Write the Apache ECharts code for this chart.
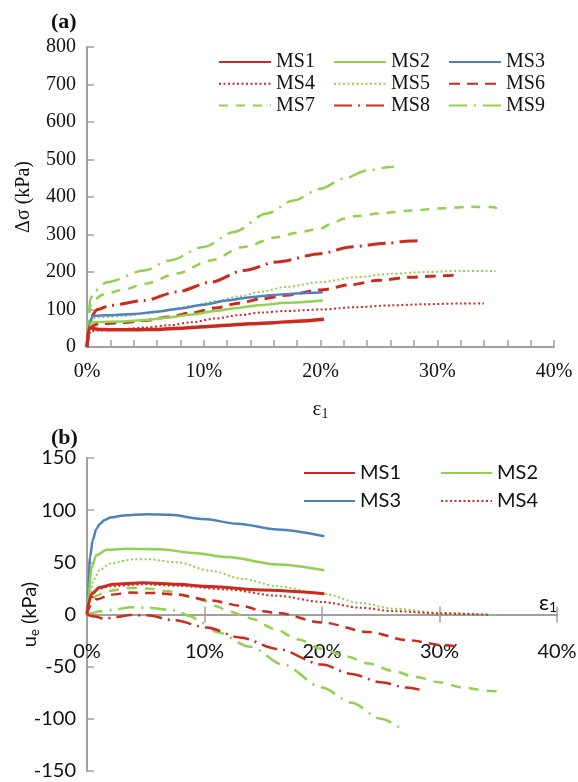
<!DOCTYPE html>
<html>
<head>
<meta charset="utf-8">
<script src="https://cdn.jsdelivr.net/npm/echarts@6/dist/echarts.min.js"></script>
<style>
  html, body { margin: 0; padding: 0; background: #fff; }
  #wrap { position: relative; width: 578px; height: 782px; }
  #chartA { position: absolute; left: 0; top: 0; width: 578px; height: 430px; }
  #chartB { position: absolute; left: 0; top: 391px; width: 578px; height: 391px; }
</style>
</head>
<body>
<div id="wrap"><div id="chartA"></div><div id="chartB"></div></div>
<script>
const names = ['MS1', 'MS2', 'MS3', 'MS4', 'MS5', 'MS6', 'MS7', 'MS8', 'MS9'];

// (a) deviator stress, [strain %, kPa]
const dsMS1 = [[0,0],[0.15,45],[0.3,52],[0.6,49],[1,47],[2,46],[4,46],[6,47],[8,50],[10,54],[12,58],[14,62],[16,65],[18,69],[20.3,74]];
const dsMS2 = [[0,0],[0.2,50],[0.4,66],[1,67],[3,68],[5,72],[7,79],[9,87],[11,96],[13,105],[15,112],[17,118],[20.2,124]];
const dsMS3 = [[0,0],[0.2,60],[0.5,82],[1,84],[2,85],[4,88],[6,94],[8,103],[10,113],[12,124],[14,133],[16,139],[18,143],[20.2,146]];
const dsMS4 = [[0,0],[0.3,42],[1,44],[3,48],[5,52],[7,58],[9,66],[11,76],[13,85],[15,92],[17,96],[20,100],[23,106],[26,111],[29,114],[32,116],[34,116]];
const dsMS5 = [[0,0],[0.3,75],[1,79],[3,82],[5,89],[7,99],[9,110],[11,122],[13,135],[15,148],[17,160],[20,173],[23,186],[26,195],[29,200],[32,203],[35,203]];
const dsMS6 = [[0,0],[0.3,55],[1,62],[3,65],[5,71],[7,80],[9,91],[11,104],[13,117],[15,129],[17,138],[20,152],[22.6,166],[25,178],[27.7,186],[29.5,189],[31.4,191]];
const dsMS7 = [[0,0],[0.3,110],[0.5,124],[1.4,140],[3,152],[5,169],[7.7,196],[10.6,231],[13.4,267],[16.3,293],[18,305],[20,316],[21,330],[22,342],[23,349],[25,356],[27.7,364],[30.6,370],[32.9,374],[34.9,373],[35.1,369]];
const dsMS8 = [[0,0],[0.3,80],[0.9,100],[2,111],[4.9,124],[7.7,147],[10.6,173],[13.4,204],[16.3,227],[20,249],[22.6,267],[25.7,277],[27.7,283],[28.7,284]];
const dsMS9 = [[0,0],[0.3,130],[0.7,151],[1.7,173],[4.9,204],[7.1,231],[10,267],[12.6,307],[15.4,356],[17.7,391],[20,422],[22,449],[24,471],[26,480],[26.3,481]];

// (b) excess pore pressure, [strain %, kPa]
const ueMS1 = [[0,0],[0.1,10],[0.4,20],[1.1,26],[2.2,29],[4.8,30.5],[7.7,29],[10.5,26.8],[14.8,23.5],[20.2,20]];
const ueMS2 = [[0,0],[0.1,15],[0.4,45],[0.8,57],[1.7,62],[3.4,63],[6.2,62.5],[9.1,59],[11.9,55],[16.2,48],[20.2,42.5]];
const ueMS3 = [[0,0],[0.1,25],[0.26,55],[0.5,72],[0.8,82],[1.1,87],[1.5,90.5],[2,93],[3.1,95],[5.1,96],[7.1,95.5],[9.9,91.5],[12.8,87],[16.2,81.5],[20.2,75]];
const ueMS4 = [[0,0],[0.3,15],[0.85,24],[2,27],[4.8,29],[7.7,27.5],[11.9,24],[16.2,18],[20,12],[23.3,6.5],[26.1,3.2],[30,1],[34.3,-0.3]];
const ueMS5 = [[0,0],[0.26,15],[0.54,33],[1.1,43],[2,49],[4,53],[5.1,53],[7.7,50],[10.5,42],[13.3,34],[16.2,27],[20,20],[23.3,11],[26.1,5.5],[30,1.6],[35,-0.8]];
const ueMS6 = [[0,0],[0.26,8],[0.8,14.5],[2,19],[3.7,21],[5.9,20.5],[7.7,19],[10.5,13.5],[13.3,8],[15,3],[16.2,1.5],[20,-7.7],[24,-16.8],[27.2,-24.5],[30.4,-29.5],[31.5,-30.5]];
const ueMS7 = [[0,0],[0.26,13],[0.8,18],[1.7,22.5],[3.7,25.5],[5,25],[7.1,22],[9.1,16],[10,13],[11,8],[12,3.5],[13.3,-1],[14,-4],[16,-14],[18,-24],[20,-33],[22,-40],[24,-47],[26,-54],[28,-60],[30,-65],[32,-70],[34,-73],[35.3,-74]];
const ueMS8 = [[0,0],[0.7,-2],[1.4,-4],[2.5,-2.5],[3.7,-0.5],[5.1,-0.8],[7.4,-5.5],[10.2,-12.5],[13,-22],[16.2,-33],[20,-48],[22.5,-57],[25,-65],[27.2,-70],[28.3,-72]];
const ueMS9 = [[0,0],[0.3,1],[1.1,3],[2.5,5],[3.7,7],[5.1,6.5],[7.4,4],[8.9,-2],[9.5,-6],[10.2,-10],[11,-16.7],[13.9,-31],[16.7,-48],[20,-70],[22.5,-84.5],[25,-100],[26.6,-108.5]];

const dsData = [dsMS1, dsMS2, dsMS3, dsMS4, dsMS5, dsMS6, dsMS7, dsMS8, dsMS9];
const ueData = [ueMS1, ueMS2, ueMS3, ueMS4, ueMS5, ueMS6, ueMS7, ueMS8, ueMS9];

const RED = '#CC2A1E', GREEN = '#92D050', BLUE = '#4F81BD';
const lineA = [
  { color: RED, width: 3.5, type: 'solid' },
  { color: GREEN, width: 2.5, type: 'solid' },
  { color: BLUE, width: 2.5, type: 'solid' },
  { color: RED, width: 2, type: [2, 2.5] },
  { color: GREEN, width: 2, type: [2, 2.5] },
  { color: RED, width: 3, type: [11, 7] },
  { color: GREEN, width: 2.5, type: [9, 8] },
  { color: RED, width: 3, type: [18, 6, 2, 6] },
  { color: GREEN, width: 2.5, type: [18, 7, 2, 7] }
];
const lineB = [
  { color: RED, width: 3, type: 'solid' },
  { color: GREEN, width: 2.5, type: 'solid' },
  { color: BLUE, width: 2.5, type: 'solid' },
  { color: RED, width: 2, type: [2, 2.5] },
  { color: GREEN, width: 2, type: [2, 2.5] },
  { color: RED, width: 2.5, type: [10, 7] },
  { color: GREEN, width: 2.5, type: [10, 8] },
  { color: RED, width: 2.5, type: [16, 6, 2, 6] },
  { color: GREEN, width: 2.5, type: [16, 7, 2, 7] }
];

const AXIS = '#A0A0A0';
const SERIF = 'Liberation Serif';
const SANS = 'Lato';

function makeSeries(data, styles) {
  return data.map((d, i) => ({
    name: names[i],
    type: 'line',
    data: d,
    symbol: 'none',
    smooth: 0.3,
    smoothMonotone: 'x',
    lineStyle: styles[i],
    itemStyle: { color: styles[i].color },
    z: 10 - i
  }));
}

function legendCol(left, top, items, font, gap, w) {
  return {
    left: left, top: top, orient: 'vertical',
    data: items, itemWidth: w, itemHeight: 14, itemGap: gap,
    itemStyle: { opacity: 0 },
    textStyle: { fontFamily: font, fontSize: 20, color: '#111' },
    selectedMode: false
  };
}

// ---- panel (a)
const chartA = echarts.init(document.getElementById('chartA'));
chartA.setOption({
  animation: false,
  backgroundColor: 'transparent',
  title: { text: '(a)', left: 46, top: 6, textStyle: { fontFamily: SERIF, fontWeight: 'bold', fontSize: 22, color: '#111' } },
  legend: [
    legendCol(213, 47, ['MS1', 'MS4', 'MS7'], SERIF, 1.7, 52),
    legendCol(328, 47, ['MS2', 'MS5', 'MS8'], SERIF, 1.7, 52),
    legendCol(443, 47, ['MS3', 'MS6', 'MS9'], SERIF, 1.7, 52)
  ],
  grid: { left: 87, top: 47, width: 467, height: 300, outerBoundsMode: 'none' },
  xAxis: {
    type: 'value', min: 0, max: 40, interval: 2,
    name: '{a|ε}{b|1}', nameLocation: 'middle', nameGap: 50, nameMoveOverlap: false,
    nameTextStyle: { rich: { a: { fontFamily: SERIF, fontSize: 21, color: '#111' }, b: { fontFamily: SERIF, fontSize: 14, color: '#111', padding: [10, 0, 0, 0] } } },
    axisLine: { lineStyle: { color: AXIS, width: 2 } },
    axisTick: { inside: true, length: 7, lineStyle: { color: AXIS, width: 1.5 } },
    axisLabel: { margin: 15, fontFamily: SERIF, fontSize: 20, color: '#111', formatter: v => (v % 10 === 0 ? v + '%' : '') },
    splitLine: { show: false }
  },
  yAxis: {
    type: 'value', min: 0, max: 800, interval: 100,
    name: 'Δσ (kPa)', nameLocation: 'middle', nameGap: 53, nameMoveOverlap: false,
    nameTextStyle: { fontFamily: SERIF, fontSize: 20, color: '#111' },
    axisLine: { show: true, lineStyle: { color: AXIS, width: 2 } },
    axisTick: { show: true, inside: true, length: 7, lineStyle: { color: AXIS, width: 1.5 } },
    axisLabel: { margin: 11, fontFamily: SERIF, fontSize: 20, color: '#111' },
    splitLine: { show: false }
  },
  series: makeSeries(dsData, lineA)
});

// ---- panel (b)
// x axis 0 carries the % labels (kept at the grid bottom, pulled up to sit under u=0),
// axes 1 and 2 draw the line at u=0 with ticks crossing it
const chartB = echarts.init(document.getElementById('chartB'));
chartB.setOption({
  animation: false,
  backgroundColor: 'transparent',
  title: { text: '(b)', left: 46, top: 31, textStyle: { fontFamily: SERIF, fontWeight: 'bold', fontSize: 22, color: '#111' } },
  legend: [
    legendCol(298, 67, ['MS1', 'MS3'], SANS, 8, 51),
    legendCol(435, 67, ['MS2', 'MS4'], SANS, 8, 51)
  ],
  grid: { left: 87, top: 67, width: 470, height: 313, outerBoundsMode: 'none' },
  xAxis: [
    {
      type: 'value', min: 0, max: 40, interval: 10, position: 'bottom',
      axisLine: { show: false, onZero: false },
      axisTick: { show: false },
      axisLabel: { margin: -129, fontFamily: SANS, fontSize: 20, color: '#111', formatter: v => v + '%' },
      splitLine: { show: false }
    },
    {
      type: 'value', min: 0, max: 40, interval: 10, position: 'bottom',
      name: '{a|ε}{b|1}', nameLocation: 'end', nameGap: 0, nameMoveOverlap: false,
      nameTextStyle: { align: 'right', verticalAlign: 'bottom', rich: { a: { fontFamily: SANS, fontSize: 22, color: '#111' }, b: { fontFamily: SANS, fontSize: 14, color: '#111', padding: [10, 0, 0, 0] } } },
      axisLine: { onZero: true, onZeroAxisIndex: 0, lineStyle: { color: AXIS, width: 2 } },
      axisTick: { inside: false, length: 8, lineStyle: { color: AXIS, width: 1.5 } },
      axisLabel: { show: false },
      splitLine: { show: false }
    },
    {
      type: 'value', min: 0, max: 40, interval: 10, position: 'top',
      axisLine: { onZero: true, onZeroAxisIndex: 0, lineStyle: { color: AXIS, width: 2 } },
      axisTick: { inside: false, length: 8, lineStyle: { color: AXIS, width: 1.5 } },
      axisLabel: { show: false },
      splitLine: { show: false }
    }
  ],
  yAxis: {
    type: 'value', min: -150, max: 150, interval: 50,
    name: '{u|u}{e|e}{u| (kPa)}', nameLocation: 'middle', nameGap: 46, nameMoveOverlap: false,
    nameTextStyle: { rich: { u: { fontFamily: SANS, fontSize: 20, color: '#111' }, e: { fontFamily: SANS, fontSize: 13, color: '#111', padding: [9, 0, 0, 0] } } },
    axisLine: { show: true, onZero: false, lineStyle: { color: AXIS, width: 2 } },
    axisTick: { show: true, inside: true, length: 7, lineStyle: { color: AXIS, width: 1.5 } },
    axisLabel: { margin: 11, fontFamily: SANS, fontSize: 20, color: '#111' },
    splitLine: { show: false }
  },
  series: makeSeries(ueData, lineB)
});
</script>
</body>
</html>
